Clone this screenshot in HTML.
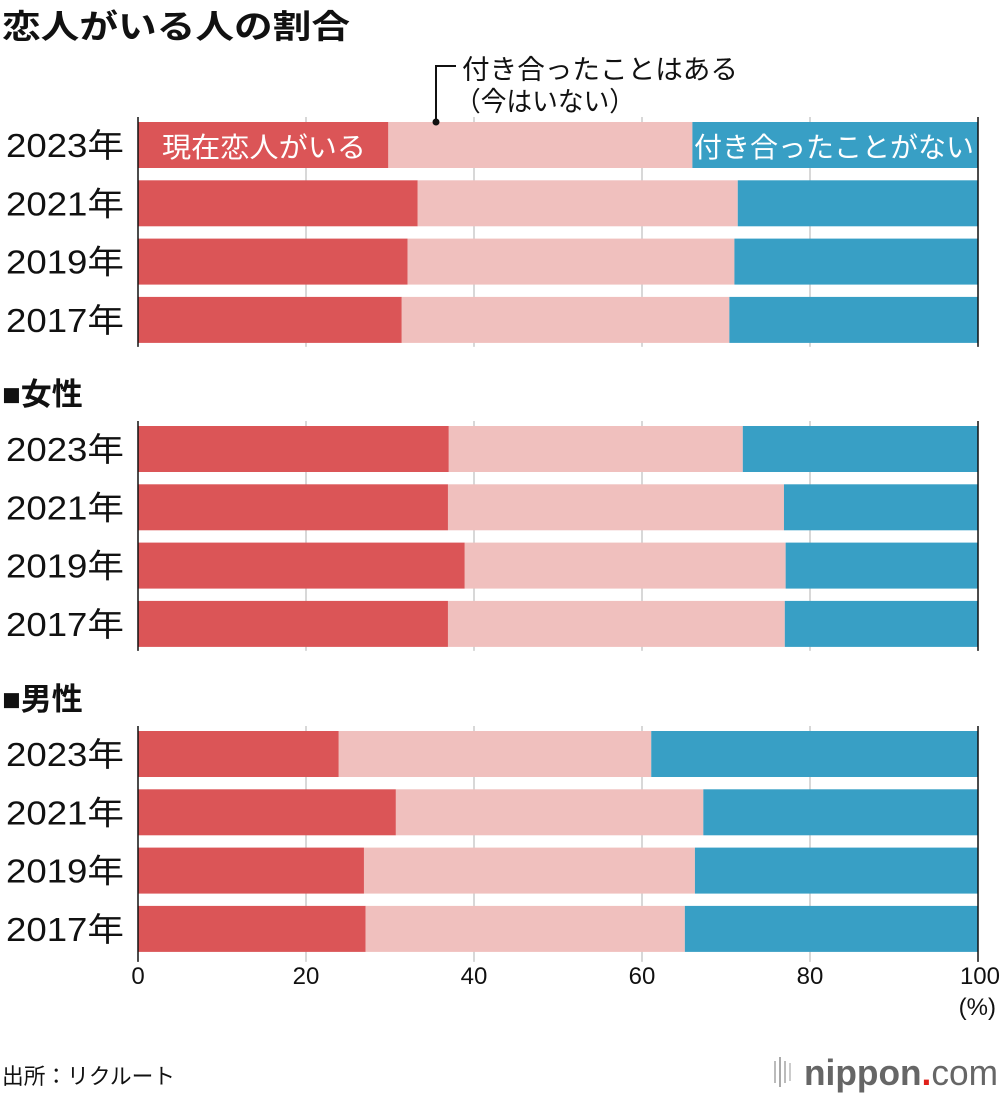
<!DOCTYPE html>
<html><head><meta charset="utf-8">
<style>
body{margin:0;background:#fff;}
svg{display:block;font-family:"Liberation Sans","Noto Sans CJK JP",sans-serif;}
</style></head>
<body>
<svg id="chart" width="1000" height="1094" viewBox="0 0 1000 1094">
<text x="2" y="38" font-size="33" font-weight="bold" fill="#111" textLength="348" lengthAdjust="spacingAndGlyphs">恋人がいる人の割合</text>
<text x="2" y="405" font-size="31" font-weight="bold" fill="#111">■女性</text>
<text x="2" y="710" font-size="31" font-weight="bold" fill="#111">■男性</text>
<g id="grid"></g>
<g id="bars"></g>
<g id="axes"></g>
<text x="462" y="79" font-size="27" fill="#111" textLength="276" lengthAdjust="spacingAndGlyphs">付き合ったことはある</text>
<text x="455" y="111" font-size="27" fill="#111" textLength="180" lengthAdjust="spacingAndGlyphs">（今はいない）</text>
<path d="M456 66 H436 V122" stroke="#111" stroke-width="2" fill="none"/>
<circle cx="436" cy="122" r="3.5" fill="#111"/>
<text x="162" y="157" font-size="28" fill="#fff" textLength="204" lengthAdjust="spacingAndGlyphs">現在恋人がいる</text>
<text x="974" y="157" font-size="28" fill="#fff" text-anchor="end">付き合ったことがない</text>
<text x="996" y="1015" font-size="24" fill="#111" text-anchor="end">(%)</text>
<text x="2" y="1084" font-size="22" fill="#111" textLength="173" lengthAdjust="spacingAndGlyphs">出所：リクルート</text>
<g>
<rect x="774" y="1061" width="2" height="22" fill="#bbb"/><rect x="779" y="1057" width="2" height="30" fill="#aaa"/><rect x="784" y="1061" width="2" height="22" fill="#bbb"/><rect x="789" y="1063" width="2" height="18" fill="#ccc"/>
<text x="804" y="1085" font-size="36" fill="#666" font-weight="bold" textLength="194" lengthAdjust="spacingAndGlyphs">nippon<tspan fill="#e0201a">.</tspan><tspan font-weight="normal">com</tspan></text>
</g>
</svg>
<script>
const years = ["2023年","2021年","2019年","2017年"];
const sectionNames = ["all","women","men"];
const currentAll = [29.8,33.3,32.1,31.4];
const pastAll = [36.2,38.1,38.9,39.0];
const currentWomen = [37.0,36.9,38.9,36.9];
const pastWomen = [35.0,40.0,38.2,40.1];
const currentMen = [23.9,30.7,26.9,27.1];
const pastMen = [37.2,36.6,39.4,38.0];
const ticks = [0,20,40,60,80,100];

const NS="http://www.w3.org/2000/svg";
const x0=138, x1=978;
const xs=v=>x0+(x1-x0)*v/100;
const sectionTops=[122,426,731];
const rowStep=58.3, barH=46;
const cur=[currentAll,currentWomen,currentMen];
const past=[pastAll,pastWomen,pastMen];
function mk(tag,attrs,parent){const e=document.createElementNS(NS,tag);for(const k in attrs)e.setAttribute(k,attrs[k]);parent.appendChild(e);return e;}
const grid=document.getElementById('grid'),bars=document.getElementById('bars'),axes=document.getElementById('axes');
sectionTops.forEach((top,s)=>{
  const bottom=top+rowStep*3+barH+4;
  ticks.forEach(t=>{
    if(t===0||t===100)return;
    const l=mk('line',{x1:xs(t),x2:xs(t),y1:top-5,y2:bottom+(s===2?6:0),stroke:'#ccc','stroke-width':1.5},grid);
    
    
  });
  years.forEach((y,i)=>{
    const yy=top+i*rowStep;
    const lab=mk('text',{x:6,y:yy+barH/2+12,'font-size':33,fill:'#111',textLength:118,lengthAdjust:'spacingAndGlyphs'},bars);
    lab.textContent=y;
    
    
    const c=cur[s][i], p=past[s][i];
    const r1=mk('rect',{x:xs(0),y:yy,width:xs(c)-xs(0),height:barH,fill:'#db5557'},bars);
    
    
    const r2=mk('rect',{x:xs(c),y:yy,width:xs(c+p)-xs(c),height:barH,fill:'#f0c0be'},bars);
    
    
    const r3=mk('rect',{x:xs(c+p),y:yy,width:xs(100)-xs(c+p),height:barH,fill:'#389fc5'},bars);
    
    
  });
  [0,100].forEach(t=>{
    const l=mk('line',{x1:xs(t),x2:xs(t),y1:top-5,y2:bottom+(s===2?6:0),stroke:'#111','stroke-width':1.5},axes);
    
    
  });
});
ticks.forEach(t=>{
  const tx=mk('text',{x:xs(t),y:984,'font-size':24,fill:'#111','text-anchor':t===100?'end':'middle'},axes);
  if(t===100)tx.setAttribute('x',xs(t)+22);
  tx.textContent=t;
  
  
});
</script>
</body></html>
